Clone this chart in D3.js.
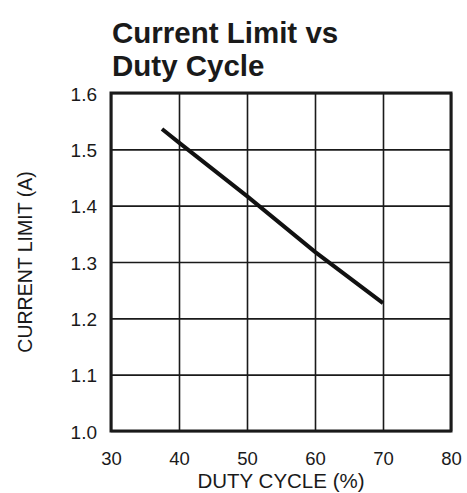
<!DOCTYPE html>
<html lang="en">
<head>
  <meta charset="UTF-8">
  <title>Current Limit vs Duty Cycle</title>
  <style>
    body { margin: 0; background: #fff; }
    svg { display: block; font-family: "Liberation Sans", Arial, sans-serif; }
  </style>
</head>
<body>
  <div id="chart"></div>
  <script src="https://d3js.org/d3.v7.min.js"></script>
  <script>
    // values
    const dutyCycle = [37.5, 40, 50, 60, 70];
    const currentLimit = [1.536, 1.512, 1.417, 1.318, 1.227];
    const xTicks = [30, 40, 50, 60, 70, 80];
    const yTicks = [1.0, 1.1, 1.2, 1.3, 1.4, 1.5, 1.6];

    const width = 467;
    const height = 493;
    const margin = { top: 93, right: 16, bottom: 62, left: 111 };
    const plotW = width - margin.left - margin.right;
    const plotH = height - margin.top - margin.bottom;

    const svg = d3.select('#chart')
      .append('svg')
      .attr('width', width)
      .attr('height', height);

    const g = svg.append('g')
      .attr('transform', `translate(${margin.left}, ${margin.top})`);

    const xScale = d3.scaleLinear().domain([30, 80]).range([0, plotW]);
    const yScale = d3.scaleLinear().domain([1.0, 1.6]).range([plotH, 0]);

    // x axis with gridlines
    const xAxis = g.append('g')
      .attr('transform', `translate(0, ${plotH})`)
      .call(d3.axisBottom(xScale)
        .tickValues(xTicks)
        .tickSizeInner(-plotH)
        .tickSizeOuter(0)
        .tickPadding(21)
        .tickFormat(d3.format('d')));
    xAxis.select('.domain').remove();
    xAxis.selectAll('line').attr('stroke', '#1a1a1a').attr('stroke-width', 1.6);
    xAxis.selectAll('text')
      .attr('fill', '#1a1a1a')
      .style('font-size', '18.5px')
      .style('font-family', '"Liberation Sans", Arial, sans-serif');

    // y axis with gridlines
    const yAxis = g.append('g')
      .call(d3.axisLeft(yScale)
        .tickValues(yTicks)
        .tickSizeInner(-plotW)
        .tickSizeOuter(0)
        .tickPadding(14)
        .tickFormat(d3.format('.1f')));
    yAxis.select('.domain').remove();
    yAxis.selectAll('line').attr('stroke', '#1a1a1a').attr('stroke-width', 1.6);
    yAxis.selectAll('text')
      .attr('fill', '#1a1a1a')
      .attr('dy', '0.37em')
      .style('font-size', '19px')
      .style('font-family', '"Liberation Sans", Arial, sans-serif');

    // frame
    g.append('rect')
      .attr('x', 0)
      .attr('y', 0)
      .attr('width', plotW)
      .attr('height', plotH)
      .attr('fill', 'none')
      .attr('stroke', '#1a1a1a')
      .attr('stroke-width', 3);

    // data line
    const points = dutyCycle.map((d, i) => [d, currentLimit[i]]);
    g.append('path')
      .datum(points)
      .attr('fill', 'none')
      .attr('stroke', '#111')
      .attr('stroke-width', 4)
      .attr('d', d3.line()
        .x(d => xScale(d[0]))
        .y(d => yScale(d[1])));

    // title
    const title = svg.append('text')
      .attr('fill', '#1a1a1a')
      .style('font-size', '29.5px')
      .style('font-weight', 'bold');
    title.append('tspan').attr('x', 112).attr('y', 43).text('Current Limit vs');
    title.append('tspan').attr('x', 112).attr('y', 76).text('Duty Cycle');

    // axis titles
    svg.append('text')
      .attr('x', margin.left + plotW / 2)
      .attr('y', 488)
      .attr('text-anchor', 'middle')
      .attr('fill', '#1a1a1a')
      .style('font-size', '20.5px')
      .text('DUTY CYCLE (%)');

    svg.append('text')
      .attr('transform', 'rotate(-90)')
      .attr('x', -(margin.top + plotH / 2))
      .attr('y', 32)
      .attr('text-anchor', 'middle')
      .attr('fill', '#1a1a1a')
      .style('font-size', '19.5px')
      .text('CURRENT LIMIT (A)');
  </script>
</body>
</html>
